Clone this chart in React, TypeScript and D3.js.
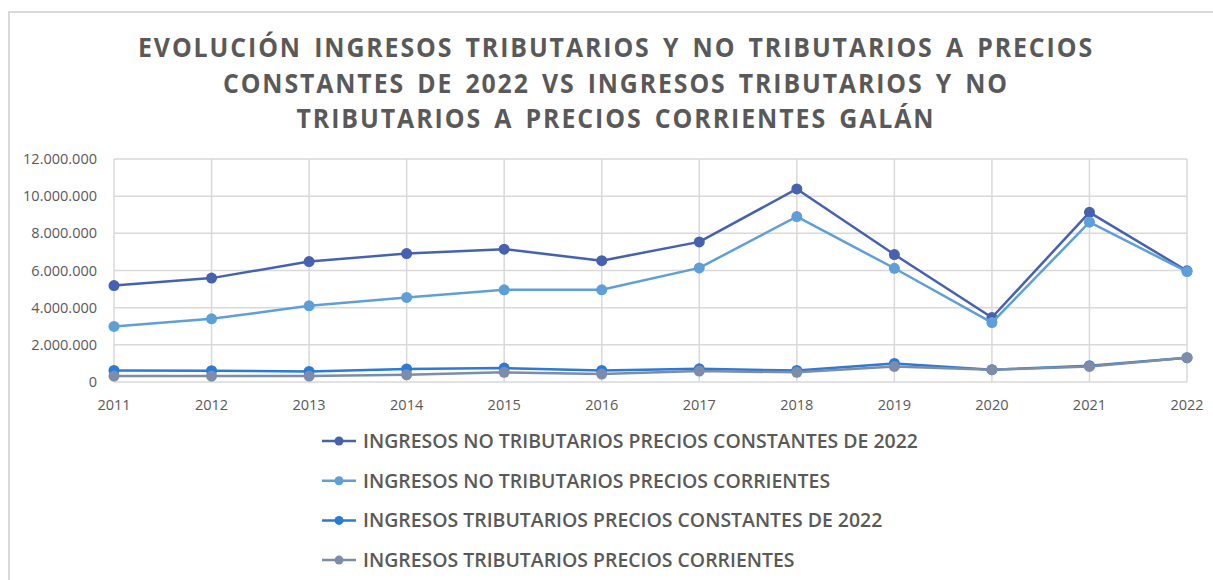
import React, { useEffect, useRef } from "react";
import * as d3 from "d3";

const years = ["2011", "2012", "2013", "2014", "2015", "2016", "2017", "2018", "2019", "2020", "2021", "2022"];

const noTribConstantes = [5190000, 5590000, 6480000, 6910000, 7150000, 6530000, 7540000, 10390000, 6860000, 3470000, 9130000, 5980000];
const noTribCorrientes = [2990000, 3400000, 4100000, 4550000, 4960000, 4960000, 6140000, 8900000, 6120000, 3200000, 8600000, 5940000];
const tribConstantes = [620000, 610000, 570000, 700000, 750000, 620000, 710000, 620000, 1000000, 660000, 880000, 1310000];
const tribCorrientes = [320000, 320000, 320000, 390000, 520000, 430000, 590000, 520000, 840000, 660000, 840000, 1310000];

const seriesNames = [
  "INGRESOS NO TRIBUTARIOS PRECIOS CONSTANTES DE 2022",
  "INGRESOS NO TRIBUTARIOS PRECIOS CORRIENTES",
  "INGRESOS TRIBUTARIOS PRECIOS CONSTANTES DE 2022",
  "INGRESOS TRIBUTARIOS PRECIOS CORRIENTES",
];
const seriesValues = [noTribConstantes, noTribCorrientes, tribConstantes, tribCorrientes];
const seriesColors = ["#4661B0", "#5E9FD8", "#2A7AD8", "#7D8CA8"];

const yTicks = [0, 2000000, 4000000, 6000000, 8000000, 10000000, 12000000];

const titleLines = [
  "EVOLUCIÓN INGRESOS TRIBUTARIOS Y NO TRIBUTARIOS A PRECIOS",
  "CONSTANTES DE 2022 VS INGRESOS TRIBUTARIOS Y NO",
  "TRIBUTARIOS A PRECIOS CORRIENTES GALÁN",
];
const titleWidths = [956, 786, 639];

const W = 1213;
const H = 580;

function fmt(v: number): string {
  if (v === 0) return "0";
  return d3.format(",")(v).replace(/,/g, ".");
}

export default function App() {
  const ref = useRef<SVGSVGElement | null>(null);

  useEffect(() => {
    const svg = d3.select(ref.current);
    svg.selectAll("*").remove();

    // chart border
    svg.append("rect")
      .attr("x", 9).attr("y", 12).attr("width", W + 20).attr("height", H + 20)
      .attr("fill", "white").attr("stroke", "#d9d9d9").attr("stroke-width", 2);

    const x = d3.scalePoint<string>().domain(years).range([114, 1187]);
    const y = d3.scaleLinear().domain([0, 12000000]).range([382, 159]);

    const grid = svg.append("g");
    yTicks.forEach((t) => {
      grid.append("line")
        .attr("x1", 114).attr("x2", 1187)
        .attr("y1", y(t)).attr("y2", y(t))
        .attr("stroke", "#d9d9d9").attr("stroke-width", 1.5);
    });
    years.forEach((yr) => {
      grid.append("line")
        .attr("x1", x(yr)!).attr("x2", x(yr)!)
        .attr("y1", y(12000000)).attr("y2", y(0))
        .attr("stroke", "#d9d9d9").attr("stroke-width", 1.5);
    });

    const font = "'Open Sans', 'Liberation Sans', sans-serif";

    // y tick labels
    svg.append("g").selectAll("text").data(yTicks).join("text")
      .attr("x", 97).attr("y", (d) => y(d) + 5)
      .attr("text-anchor", "end")
      .attr("font-family", font).attr("font-size", 14.5)
      .attr("fill", "#595959")
      .text((d) => fmt(d));

    // x tick labels
    svg.append("g").selectAll("text").data(years).join("text")
      .attr("x", (d) => x(d)!).attr("y", 410)
      .attr("text-anchor", "middle")
      .attr("font-family", font).attr("font-size", 14.5)
      .attr("fill", "#595959")
      .text((d) => d);

    const line = d3.line<number>()
      .x((_, i) => x(years[i])!)
      .y((d) => y(d));

    seriesValues.forEach((vals, si) => {
      const g = svg.append("g");
      g.append("path")
        .attr("d", line(vals)!)
        .attr("fill", "none")
        .attr("stroke", seriesColors[si])
        .attr("stroke-width", 2.5)
        .attr("stroke-linejoin", "round");
      g.selectAll("circle").data(vals).join("circle")
        .attr("cx", (_, i) => x(years[i])!)
        .attr("cy", (d) => y(d))
        .attr("r", 5.5)
        .attr("fill", seriesColors[si]);
    });

    // title
    titleLines.forEach((t, i) => {
      svg.append("text")
        .attr("x", 616).attr("y", 57 + i * 35.5)
        .attr("text-anchor", "middle")
        .attr("font-family", font).attr("font-weight", 700)
        .attr("font-size", 26)
        .attr("letter-spacing", 2)
        .attr("word-spacing", 4)
        .attr("fill", "#595959")
        .attr("textLength", titleWidths[i])
        .attr("lengthAdjust", "spacingAndGlyphs")
        .text(t);
    });

    // legend
    const lg = svg.append("g");
    const items = lg.selectAll("g").data(seriesNames).join("g")
      .attr("transform", (_, i) => `translate(0, ${441 + i * 39.7})`);
    items.append("line")
      .attr("x1", 322).attr("x2", 356).attr("y1", 0).attr("y2", 0)
      .attr("stroke", (_, i) => seriesColors[i]).attr("stroke-width", 2.5);
    items.append("circle")
      .attr("cx", 339).attr("cy", 0).attr("r", 4.5)
      .attr("fill", (_, i) => seriesColors[i]);
    const texts = items.append("text")
      .attr("x", 0).attr("y", 7)
      .attr("font-family", font).attr("font-size", 20)
      .attr("font-weight", 600)
      .attr("fill", "#595959")
      .text((d) => d);
    let maxW = 0;
    texts.each(function () {
      const w = (this as SVGTextElement).getComputedTextLength();
      if (w > maxW) maxW = w;
    });
    const sx = maxW > 0 ? 555 / maxW : 1;
    texts.attr("transform", `translate(363,0) scale(${sx},1)`);
  }, []);

  return (
    <svg
      ref={ref}
      width={W}
      height={H}
      style={{ position: "absolute", left: 0, top: 0, display: "block", background: "white" }}
    />
  );
}
